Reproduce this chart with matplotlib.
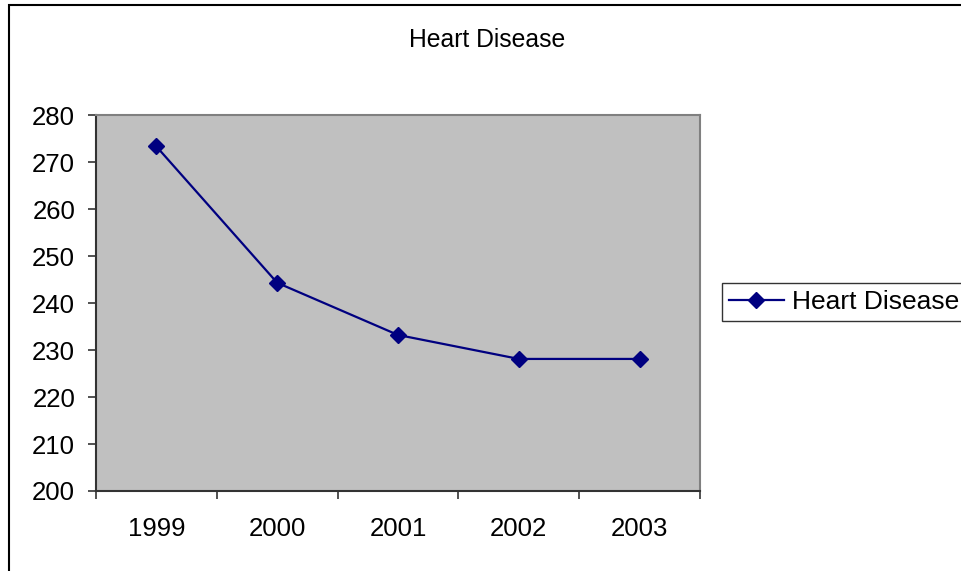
import numpy as np
import matplotlib.pyplot as plt
from matplotlib.patches import Rectangle

plt.rcParams['font.family'] = ['Liberation Sans', 'DejaVu Sans']

# Data
years  = ['1999', '2000', '2001', '2002', '2003']
deaths = [273.3, 244.3, 233.2, 228.1, 228.1]
y_ticks = np.arange(200, 280 + 1, 10)

W, H = 961, 571
fig = plt.figure(figsize=(W/100, H/100), dpi=100)

# outer chart border (right/bottom edges fall outside the image)
fig.patches.append(Rectangle((9/W, -0.1), 1.2, 1.1 - 5/H, transform=fig.transFigure,
                             fill=False, edgecolor='black', linewidth=1.5))

ax = fig.add_axes([96/W, (H-491)/H, (700-96)/W, (491-115)/H])
ax.set_facecolor('#C0C0C0')

x = np.arange(len(years))
ax.plot(x, deaths, color='#000080', linewidth=1.6, marker='D', markersize=8,
        label='Heart Disease')

ax.set_xlim(-0.5, len(years) - 0.5)
ax.set_ylim(200, 280)
ax.set_yticks(y_ticks)

# category boundaries get tick marks, labels sit in the middle
ax.set_xticks(np.arange(-0.5, len(years)))
ax.set_xticklabels([])
ax.set_xticks(x, minor=True)
ax.set_xticklabels(years, minor=True)
ax.tick_params(axis='x', which='minor', length=0, pad=19, labelsize=18.5)
ax.tick_params(axis='x', which='major', length=6, width=1.2, color='#333333')
ax.tick_params(axis='y', length=6, width=1.2, color='#333333', pad=9, labelsize=18.5)

for side in ['left', 'bottom']:
    ax.spines[side].set_color('#333333')
    ax.spines[side].set_linewidth(1.5)
for side in ['top', 'right']:
    ax.spines[side].set_color('#808080')
    ax.spines[side].set_linewidth(1.5)

fig.text(487/W, 1 - 40/H, 'Heart Disease', ha='center', va='center', fontsize=17.8)

fig.legend(loc='center left', bbox_to_anchor=(722/W, 1 - 302/H), fontsize=19,
           frameon=True, fancybox=False, edgecolor='#333333', framealpha=1,
           borderpad=0.25, borderaxespad=0, handlelength=2.1, handletextpad=0.3)

fig.savefig('out.png', dpi=100)
